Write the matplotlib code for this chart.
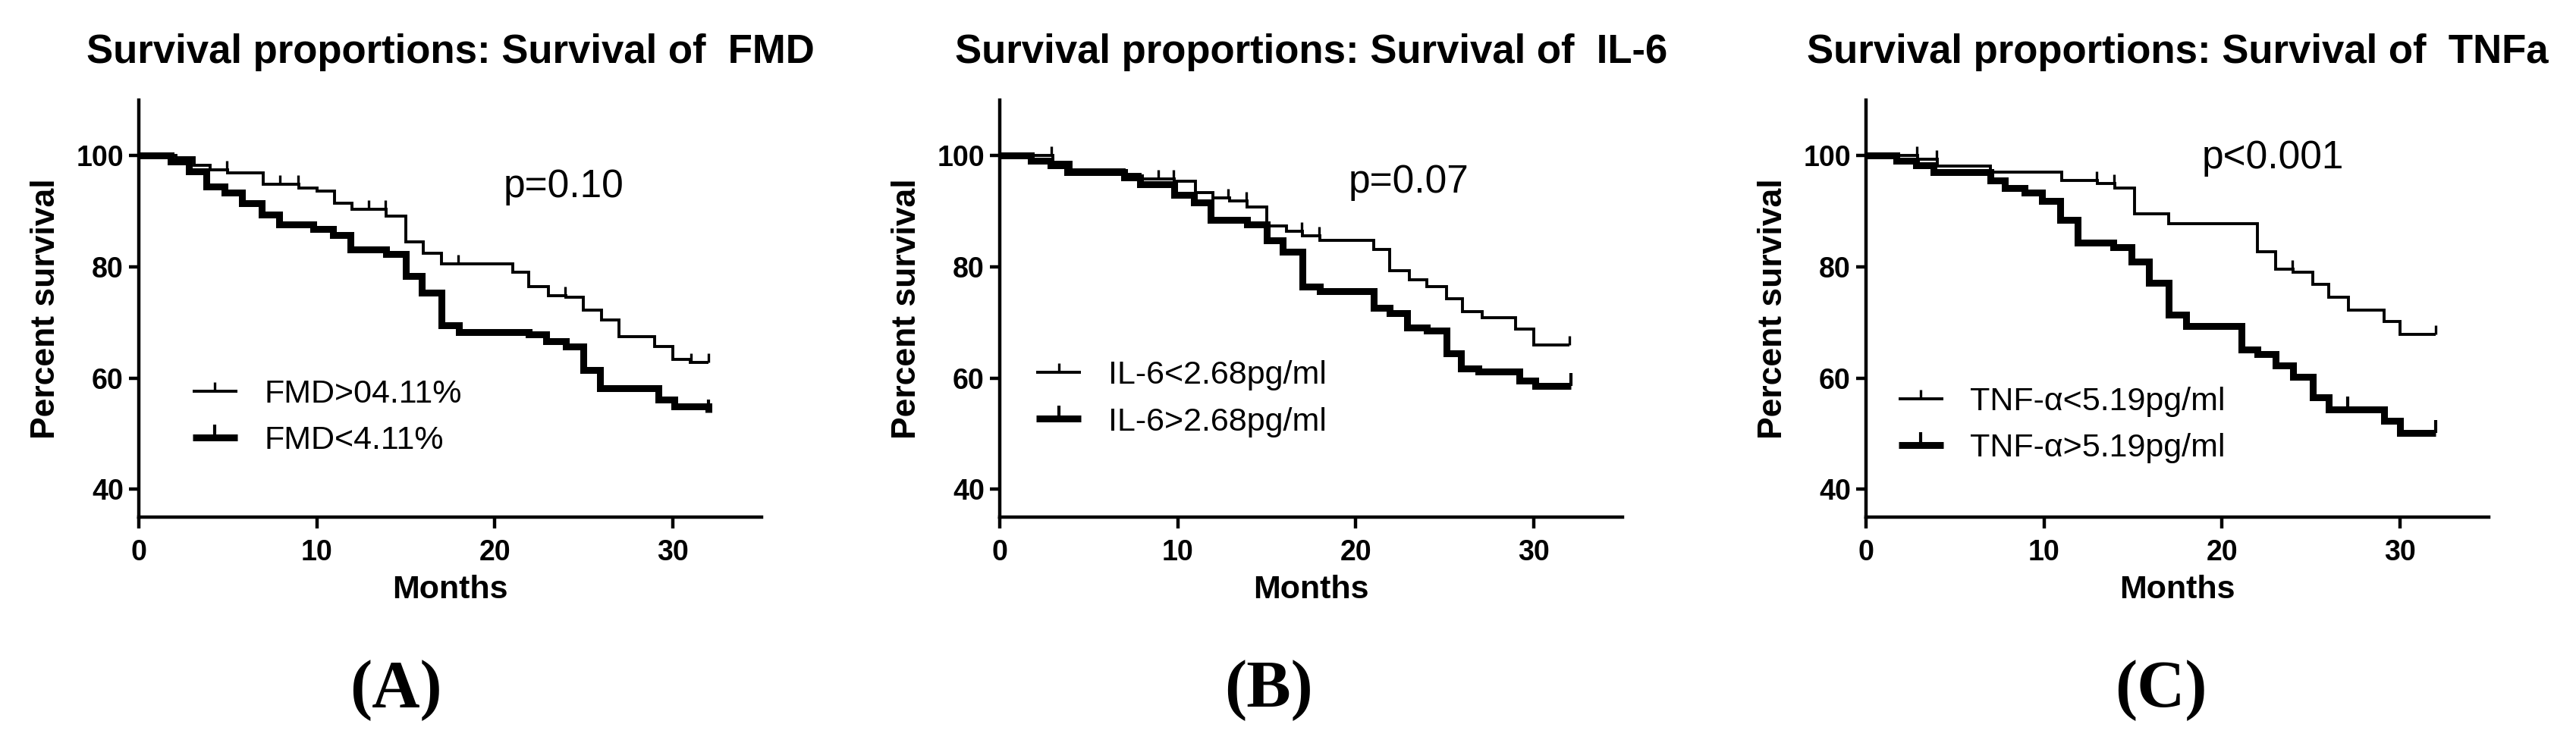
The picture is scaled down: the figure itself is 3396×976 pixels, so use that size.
import numpy as np
import matplotlib
matplotlib.use("Agg")
import matplotlib.pyplot as plt
from matplotlib.lines import Line2D

plt.rcParams['font.family'] = ['Liberation Sans', 'DejaVu Sans']

# --- data (months, percent survival) ---
# Panel A: FMD
fmd_hi_t = [0, 2.1, 3.1, 4.0, 5.0, 7.0, 9.0, 10.0, 11.0, 12.0, 13.9, 15.0, 16.0, 17.0,
            21.0, 21.9, 23.0, 24.0, 25.0, 26.0, 27.0, 29.0, 30.0, 31.0, 32.0]
fmd_hi_v = [100, 99.6, 98.3, 97.4, 96.9, 94.8, 94.2, 93.6, 91.5, 90.3, 89.2, 84.5, 82.4, 80.6,
            79.0, 76.4, 74.8, 74.6, 72.2, 70.4, 67.5, 65.7, 63.3, 62.8, 62.8]
fmd_hi_cens = [4.95, 7.95, 8.95, 12.9, 13.85, 17.95, 23.95, 31.05, 32.0]

fmd_lo_t = [0, 1.8, 2.8, 3.8, 4.8, 5.8, 6.9, 7.9, 9.8, 10.9, 11.9, 13.9, 15.0, 15.9,
            17.0, 18.0, 21.9, 22.9, 24.0, 25.0, 25.9, 29.2, 30.1, 32.0]
fmd_lo_v = [100, 99.0, 97.2, 94.5, 93.3, 91.5, 89.4, 87.6, 86.8, 85.7, 83.1, 82.3, 78.4, 75.3,
            69.5, 68.3, 67.8, 66.6, 65.7, 61.4, 58.2, 56.1, 54.9, 53.8]
fmd_lo_cens = [32.0]

# Panel B: IL-6
il6_lo_t = [0, 3.0, 4.0, 7.0, 7.9, 9.8, 11.0, 12.0, 12.9, 13.9, 15.0, 16.1, 17.0, 18.0,
            21.0, 21.9, 23.0, 24.0, 25.1, 26.0, 27.1, 29.0, 30.0, 32.0]
il6_lo_v = [100, 98.8, 97.5, 96.6, 95.8, 95.4, 93.4, 92.4, 91.9, 90.8, 87.4, 86.4, 85.6, 84.8,
            83.2, 79.3, 77.7, 76.4, 74.3, 72.0, 70.9, 68.8, 65.9, 65.9]
il6_lo_cens = [2.9, 8.9, 9.75, 12.85, 13.85, 16.95, 17.95, 32.0]

il6_hi_t = [0, 1.75, 2.84, 3.8, 7.0, 7.9, 9.8, 10.9, 11.85, 13.9, 15.0, 15.9, 17.0, 18.0,
            21.0, 21.9, 22.9, 24.0, 25.1, 25.9, 26.9, 29.2, 30.1, 32.1]
il6_hi_v = [100, 99.1, 98.3, 97.1, 96.1, 94.8, 92.9, 91.6, 88.5, 87.7, 84.8, 82.7, 76.4, 75.6,
            72.7, 71.7, 69.1, 68.6, 64.4, 61.7, 61.2, 59.6, 58.6, 58.6]
il6_hi_cens = [32.1]

# Panel C: TNF-alpha
tnf_lo_t = [0, 2.9, 4.0, 7.0, 11.0, 13.0, 14.0, 15.1, 17.0, 22.0, 23.0, 24.0, 25.1, 26.0,
            27.1, 29.1, 30.0, 32.0]
tnf_lo_v = [100, 99.3, 98.2, 97.0, 95.5, 95.0, 94.2, 89.6, 87.8, 82.7, 79.6, 79.0, 76.8, 74.6,
            72.2, 70.2, 67.9, 67.9]
tnf_lo_cens = [2.85, 3.95, 12.95, 13.95, 23.95, 32.0]

tnf_hi_t = [0, 1.7, 2.8, 3.8, 7.0, 7.8, 8.9, 9.9, 10.9, 11.9, 13.9, 14.9, 15.9, 17.0,
            18.0, 21.1, 22.0, 23.0, 24.0, 25.1, 26.0, 29.1, 30.0, 32.0]
tnf_hi_v = [100, 99.1, 98.3, 97.1, 95.5, 94.2, 93.4, 91.9, 88.5, 84.3, 83.5, 80.9, 77.2, 71.4,
            69.3, 65.1, 64.3, 62.3, 60.2, 56.5, 54.4, 52.3, 50.2, 50.2]
tnf_hi_cens = [27.05, 32.0]

titles = ['Survival proportions: Survival of  FMD',
          'Survival proportions: Survival of  IL-6',
          'Survival proportions: Survival of  TNFa']
legend_labels = [['FMD>04.11%', 'FMD<4.11%'],
                 ['IL-6<2.68pg/ml', 'IL-6>2.68pg/ml'],
                 ['TNF-\u03b1<5.19pg/ml', 'TNF-\u03b1>5.19pg/ml']]
p_texts = ['p=0.10', 'p=0.07', 'p<0.001']
panel_tags = ['(A)', '(B)', '(C)']

curves = [
    [(fmd_hi_t, fmd_hi_v, fmd_hi_cens), (fmd_lo_t, fmd_lo_v, fmd_lo_cens)],
    [(il6_lo_t, il6_lo_v, il6_lo_cens), (il6_hi_t, il6_hi_v, il6_hi_cens)],
    [(tnf_lo_t, tnf_lo_v, tnf_lo_cens), (tnf_hi_t, tnf_hi_v, tnf_hi_cens)],
]

# --- layout (figure fractions) ---
W, H = 3396, 976
axes_left_px = [183, 1318, 2460]
ax_w_px, ax_top_px, ax_bot_px = 821, 132, 682
p_pos = [(20.5, 92.6), (19.6, 93.4), (18.85, 97.7)]
legend_anchor = [(0.086, 0.239), (0.059, 0.284), (0.052, 0.221)]
tag_x_px = [522, 1673, 2849]

thin_lw, thick_lw = 2.8, 6.5
styles = [dict(lw=thin_lw, ms=9, mew=2.4), dict(lw=thick_lw, ms=12, mew=3.0)]


def value_at(t, v, times):
    idx = np.searchsorted(t, times, side='right') - 1
    return np.asarray(v)[idx]


fig = plt.figure(figsize=(W / 100, H / 100), dpi=100)

for i in range(3):
    ax = fig.add_axes([axes_left_px[i] / W, 1 - ax_bot_px / H,
                       ax_w_px / W, (ax_bot_px - ax_top_px) / H])

    for (t, v, cens), st in zip(curves[i], styles):
        ax.step(t, v, where='post', color='black', lw=st['lw'],
                solid_joinstyle='miter', solid_capstyle='butt')
        ax.plot(cens, value_at(t, v, cens), ls='none', marker=2, color='black',
                ms=st['ms'], mew=st['mew'])

    ax.set_xlim(0, 35)
    ax.set_ylim(35, 110)
    ax.set_xticks([0, 10, 20, 30])
    ax.set_yticks([40, 60, 80, 100])
    for side in ['top', 'right']:
        ax.spines[side].set_visible(False)
    for side in ['left', 'bottom']:
        ax.spines[side].set_linewidth(3.2)
    ax.tick_params(axis='both', width=3.2, labelsize=27, direction='out')
    ax.tick_params(axis='x', length=11, pad=10)
    ax.tick_params(axis='y', length=9.5, pad=5)
    for lab in ax.get_xticklabels() + ax.get_yticklabels():
        lab.set_fontweight('bold')

    ax.set_xlabel('Months', fontsize=31, fontweight='bold', labelpad=8)
    ax.set_ylabel('Percent survival', fontsize=32, fontweight='bold', labelpad=14)
    ax.set_title(titles[i], fontsize=38, fontweight='bold', pad=35)

    ax.text(p_pos[i][0], p_pos[i][1], p_texts[i], fontsize=37, ha='left', va='baseline')

    handles = [Line2D([], [], color='black', lw=st['lw'], marker=2, ms=st['ms'],
                      mew=st['mew'], solid_capstyle='butt') for st in styles]
    ax.legend(handles, legend_labels[i], loc='center left', bbox_to_anchor=legend_anchor[i],
              frameon=False, fontsize=31, handlelength=1.37, handletextpad=0.83,
              labelspacing=0.5, borderaxespad=0, borderpad=0, numpoints=1)

    fig.text(tag_x_px[i] / W, 1 - 932 / H, panel_tags[i], fontsize=63, fontweight='bold',
             family='Liberation Serif', ha='center', va='baseline')

fig.savefig('out.png', dpi=100)
